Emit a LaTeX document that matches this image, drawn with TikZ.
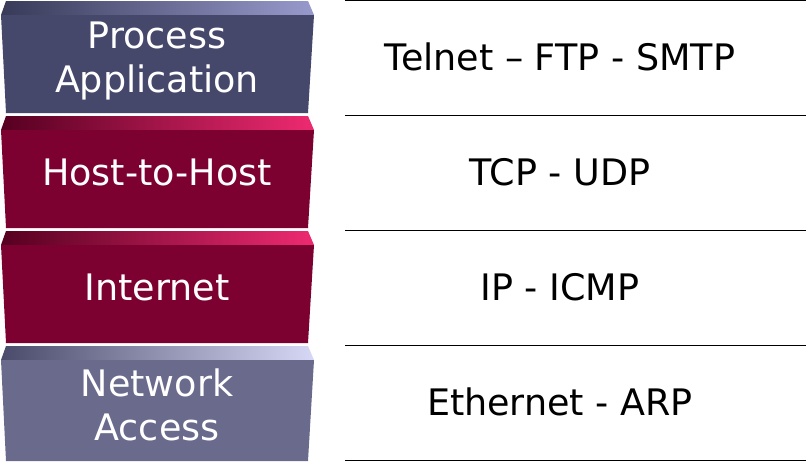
\documentclass[tikz,border=0pt]{standalone}
\usepackage{fontspec}
\setmainfont{DejaVu Sans}
\usepackage{xcolor}
\definecolor{appfront}{HTML}{45476B}
\definecolor{applo}{HTML}{383A58}
\definecolor{apphi}{HTML}{989ACC}
\definecolor{redfront}{HTML}{7C0030}
\definecolor{redlo}{HTML}{560020}
\definecolor{redhi}{HTML}{EE2A70}
\definecolor{netfront}{HTML}{696A8C}
\definecolor{netlo}{HTML}{4A4B6A}
\definecolor{nethi}{HTML}{D6D8F6}

\begin{document}
\begin{tikzpicture}[x=1pt,y=-1pt,
    layertext/.style={text=white,align=center,font=\fontsize{36.5}{44}\selectfont},
    prototext/.style={text=black,align=center,font=\fontsize{36.5}{44}\selectfont}]
    \useasboundingbox (0,0) rectangle (806,461);
    \foreach \n/\t/\b/\dy/\front/\lo/\hi/\lab/\proto in {
            app/1/113/4/appfront/applo/apphi/{Process\\Application}/{Telnet – FTP - SMTP},
            host/116/228/0/redfront/redlo/redhi/{Host-to-Host}/{TCP - UDP},
            inet/231/343/0/redfront/redlo/redhi/{Internet}/{IP - ICMP},
            net/346/461/3/netfront/netlo/nethi/{Network\\Access}/{Ethernet - ARP}} {
            \shade[left color=\lo,right color=\hi] (6,\t) -- (308,\t) -- (314,\t+14) -- (1,\t+14) -- cycle;
            \fill[\front] (1,\t+14) -- (314,\t+14) -- (308,\b) -- (6,\b) -- cycle;
            \node[layertext] (\n) at (157,\t+56+\dy) {\lab};
            \node[prototext] (\n-proto) at (560,\t+56) {\proto};
        }
    \foreach \y in {0.5,115,230,345,460}
        \draw[line width=0.9pt] (345,\y) -- (806,\y);
\end{tikzpicture}
\end{document}
